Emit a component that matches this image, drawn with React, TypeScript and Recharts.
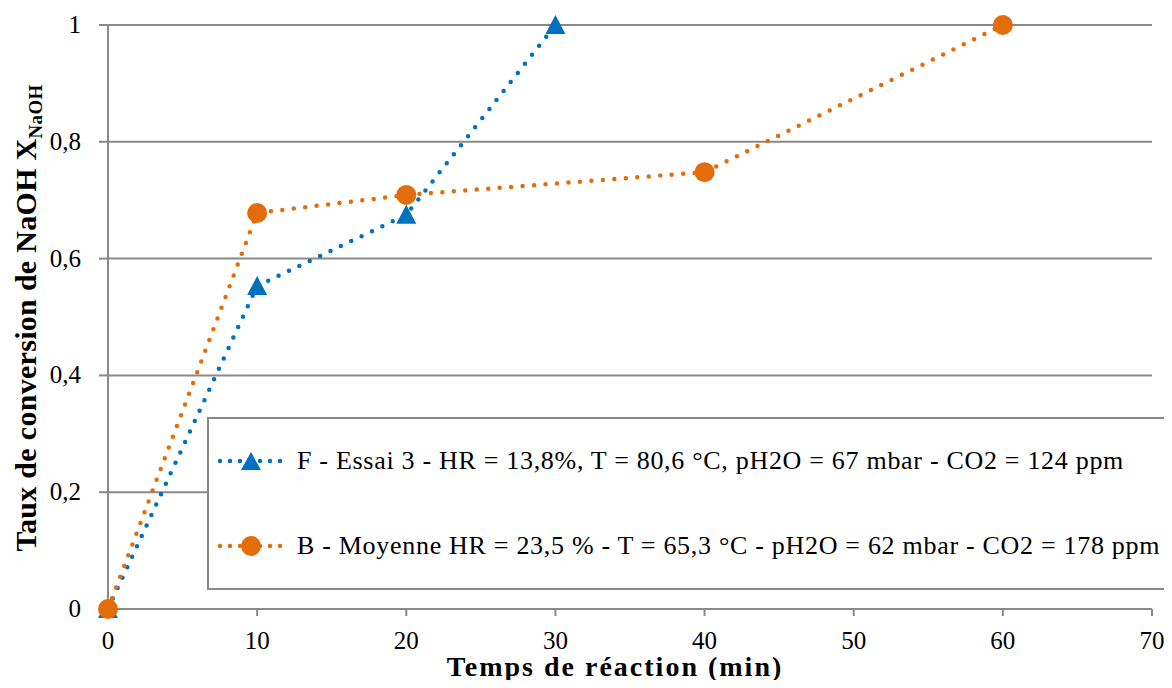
import React from "react";
import {
  LineChart,
  Line,
  XAxis,
  YAxis,
  CartesianGrid,
  Legend,
} from "recharts";

const tempsF = [0, 10, 20, 30];
const tauxF = [0, 0.553, 0.675, 1];
const tempsB = [0, 10, 20, 40, 60];
const tauxB = [0, 0.678, 0.709, 0.748, 1];
const xTicks = [0, 10, 20, 30, 40, 50, 60, 70];
const yTicks = [0, 0.2, 0.4, 0.6, 0.8, 1];
const labelF = "F - Essai 3 - HR = 13,8%, T = 80,6 °C, pH2O = 67 mbar - CO2 = 124 ppm";
const labelB = "B - Moyenne HR = 23,5 % - T = 65,3 °C - pH2O = 62 mbar - CO2 = 178 ppm";

const BLUE = "#0070C0";
const ORANGE = "#E46C0A";
const GRID = "#898989";
const FONT = "Liberation Serif";

const dataF = tempsF.map((t, i) => ({ t, v: tauxF[i] }));
const dataB = tempsB.map((t, i) => ({ t, v: tauxB[i] }));

const Triangle = (props: any) => {
  const { cx, cy, fill } = props;
  if (cx == null || cy == null) return null;
  return (
    <polygon
      points={`${cx},${cy - 10} ${cx - 10},${cy + 9} ${cx + 10},${cy + 9}`}
      fill={fill}
    />
  );
};

const Circle = (props: any) => {
  const { cx, cy, fill } = props;
  if (cx == null || cy == null) return null;
  return <circle cx={cx} cy={cy} r={10} fill={fill} />;
};

// ticks dessinés à la main, police serif en style CSS
const XTick = (props: any) => {
  const { x, y, payload } = props;
  return (
    <text x={x} y={y} dy={14} textAnchor="middle" style={{ fontFamily: FONT, fontSize: 25 }} fill="#000">
      {payload.value}
    </text>
  );
};

const YTick = (props: any) => {
  const { x, y, payload } = props;
  return (
    <text x={x} y={y} dy={8} textAnchor="end" style={{ fontFamily: FONT, fontSize: 25 }} fill="#000">
      {String(payload.value).replace(".", ",")}
    </text>
  );
};

// petit échantillon de ligne pointillée + marqueur pour la légende
const LegendIcon = ({ color, shape }: { color: string; shape: "tri" | "circle" }) => (
  <svg width={68} height={24} style={{ flex: "none" }}>
    <line
      x1={3}
      y1={12}
      x2={66}
      y2={12}
      stroke={color}
      strokeWidth={4.5}
      strokeDasharray="0 10"
      strokeLinecap="round"
    />
    {shape === "tri" ? (
      <polygon points="34,3 24,21 44,21" fill={color} />
    ) : (
      <circle cx={34} cy={12} r={10} fill={color} />
    )}
  </svg>
);

const textStyle: React.CSSProperties = {
  fontFamily: FONT,
  fontSize: 26,
  letterSpacing: 0.7,
  color: "#000",
};

const renderLegend = () => (
  <div
    style={{
      width: "100%",
      height: "100%",
      border: `2px solid ${GRID}`,
      background: "#fff",
      boxSizing: "border-box",
      display: "flex",
      flexDirection: "column",
      justifyContent: "space-around",
      paddingLeft: 8,
      whiteSpace: "nowrap",
    }}
  >
    <div style={{ display: "flex", alignItems: "center", gap: 12 }}>
      <LegendIcon color={BLUE} shape="tri" />
      <span style={textStyle}>{labelF}</span>
    </div>
    <div style={{ display: "flex", alignItems: "center", gap: 12 }}>
      <LegendIcon color={ORANGE} shape="circle" />
      <span style={textStyle}>{labelB}</span>
    </div>
  </div>
);

const renderYLabel = (props: any) => {
  const vb = props.viewBox || {};
  const cx = vb.x + 36;
  const cy = vb.y + vb.height / 2 + 1;
  return (
    <text
      x={cx}
      y={cy}
      transform={`rotate(-90, ${cx}, ${cy})`}
      textAnchor="middle"
      style={{ fontFamily: FONT, fontWeight: "bold", fontSize: 30, letterSpacing: 0.3 }}
      fill="#000"
    >
      Taux de conversion de NaOH X
      <tspan style={{ fontSize: 19 }} dy={6}>NaOH</tspan>
    </text>
  );
};

const renderXLabel = (props: any) => {
  const vb = props.viewBox || {};
  return (
    <text
      x={vb.x + vb.width / 2 - 15}
      y={vb.y + 67}
      textAnchor="middle"
      style={{ fontFamily: FONT, fontWeight: "bold", fontSize: 28, letterSpacing: 2 }}
      fill="#000"
    >
      Temps de réaction (min)
    </text>
  );
};

export default function App() {
  return (
    <div style={{ margin: -8, width: 1172, height: 688, background: "#fff", fontFamily: FONT }}>
      <LineChart
        width={1172}
        height={688}
        margin={{ top: 25, right: 20, left: 0, bottom: 0 }}
        style={{ fontFamily: FONT }}
      >
        <CartesianGrid vertical={false} stroke={GRID} strokeWidth={2} />
        <XAxis
          type="number"
          dataKey="t"
          domain={[0, 70]}
          ticks={xTicks}
          allowDuplicatedCategory={false}
          height={79}
          stroke={GRID}
          strokeWidth={2}
          tickSize={7}
          tickMargin={19}
          tick={<XTick />}
          label={renderXLabel}
        />
        <YAxis
          type="number"
          domain={[0, 1]}
          ticks={yTicks}
          width={108}
          stroke={GRID}
          strokeWidth={2}
          tickSize={9}
          tickMargin={18}
          tick={<YTick />}
          label={renderYLabel}
        />
        <Legend
          content={renderLegend}
          layout="vertical"
          align="center"
          verticalAlign="middle"
          wrapperStyle={{ position: "absolute", left: 207, top: 417, width: 980, height: 173 }}
        />
        <Line
          data={dataF}
          dataKey="v"
          name={labelF}
          stroke={BLUE}
          strokeWidth={4.5}
          strokeDasharray="0 11.5"
          strokeLinecap="round"
          dot={<Triangle fill={BLUE} />}
          activeDot={false}
          isAnimationActive={false}
        />
        <Line
          data={dataB}
          dataKey="v"
          name={labelB}
          stroke={ORANGE}
          strokeWidth={4.5}
          strokeDasharray="0 11.5"
          strokeLinecap="round"
          dot={<Circle fill={ORANGE} />}
          activeDot={false}
          isAnimationActive={false}
        />
      </LineChart>
    </div>
  );
}
